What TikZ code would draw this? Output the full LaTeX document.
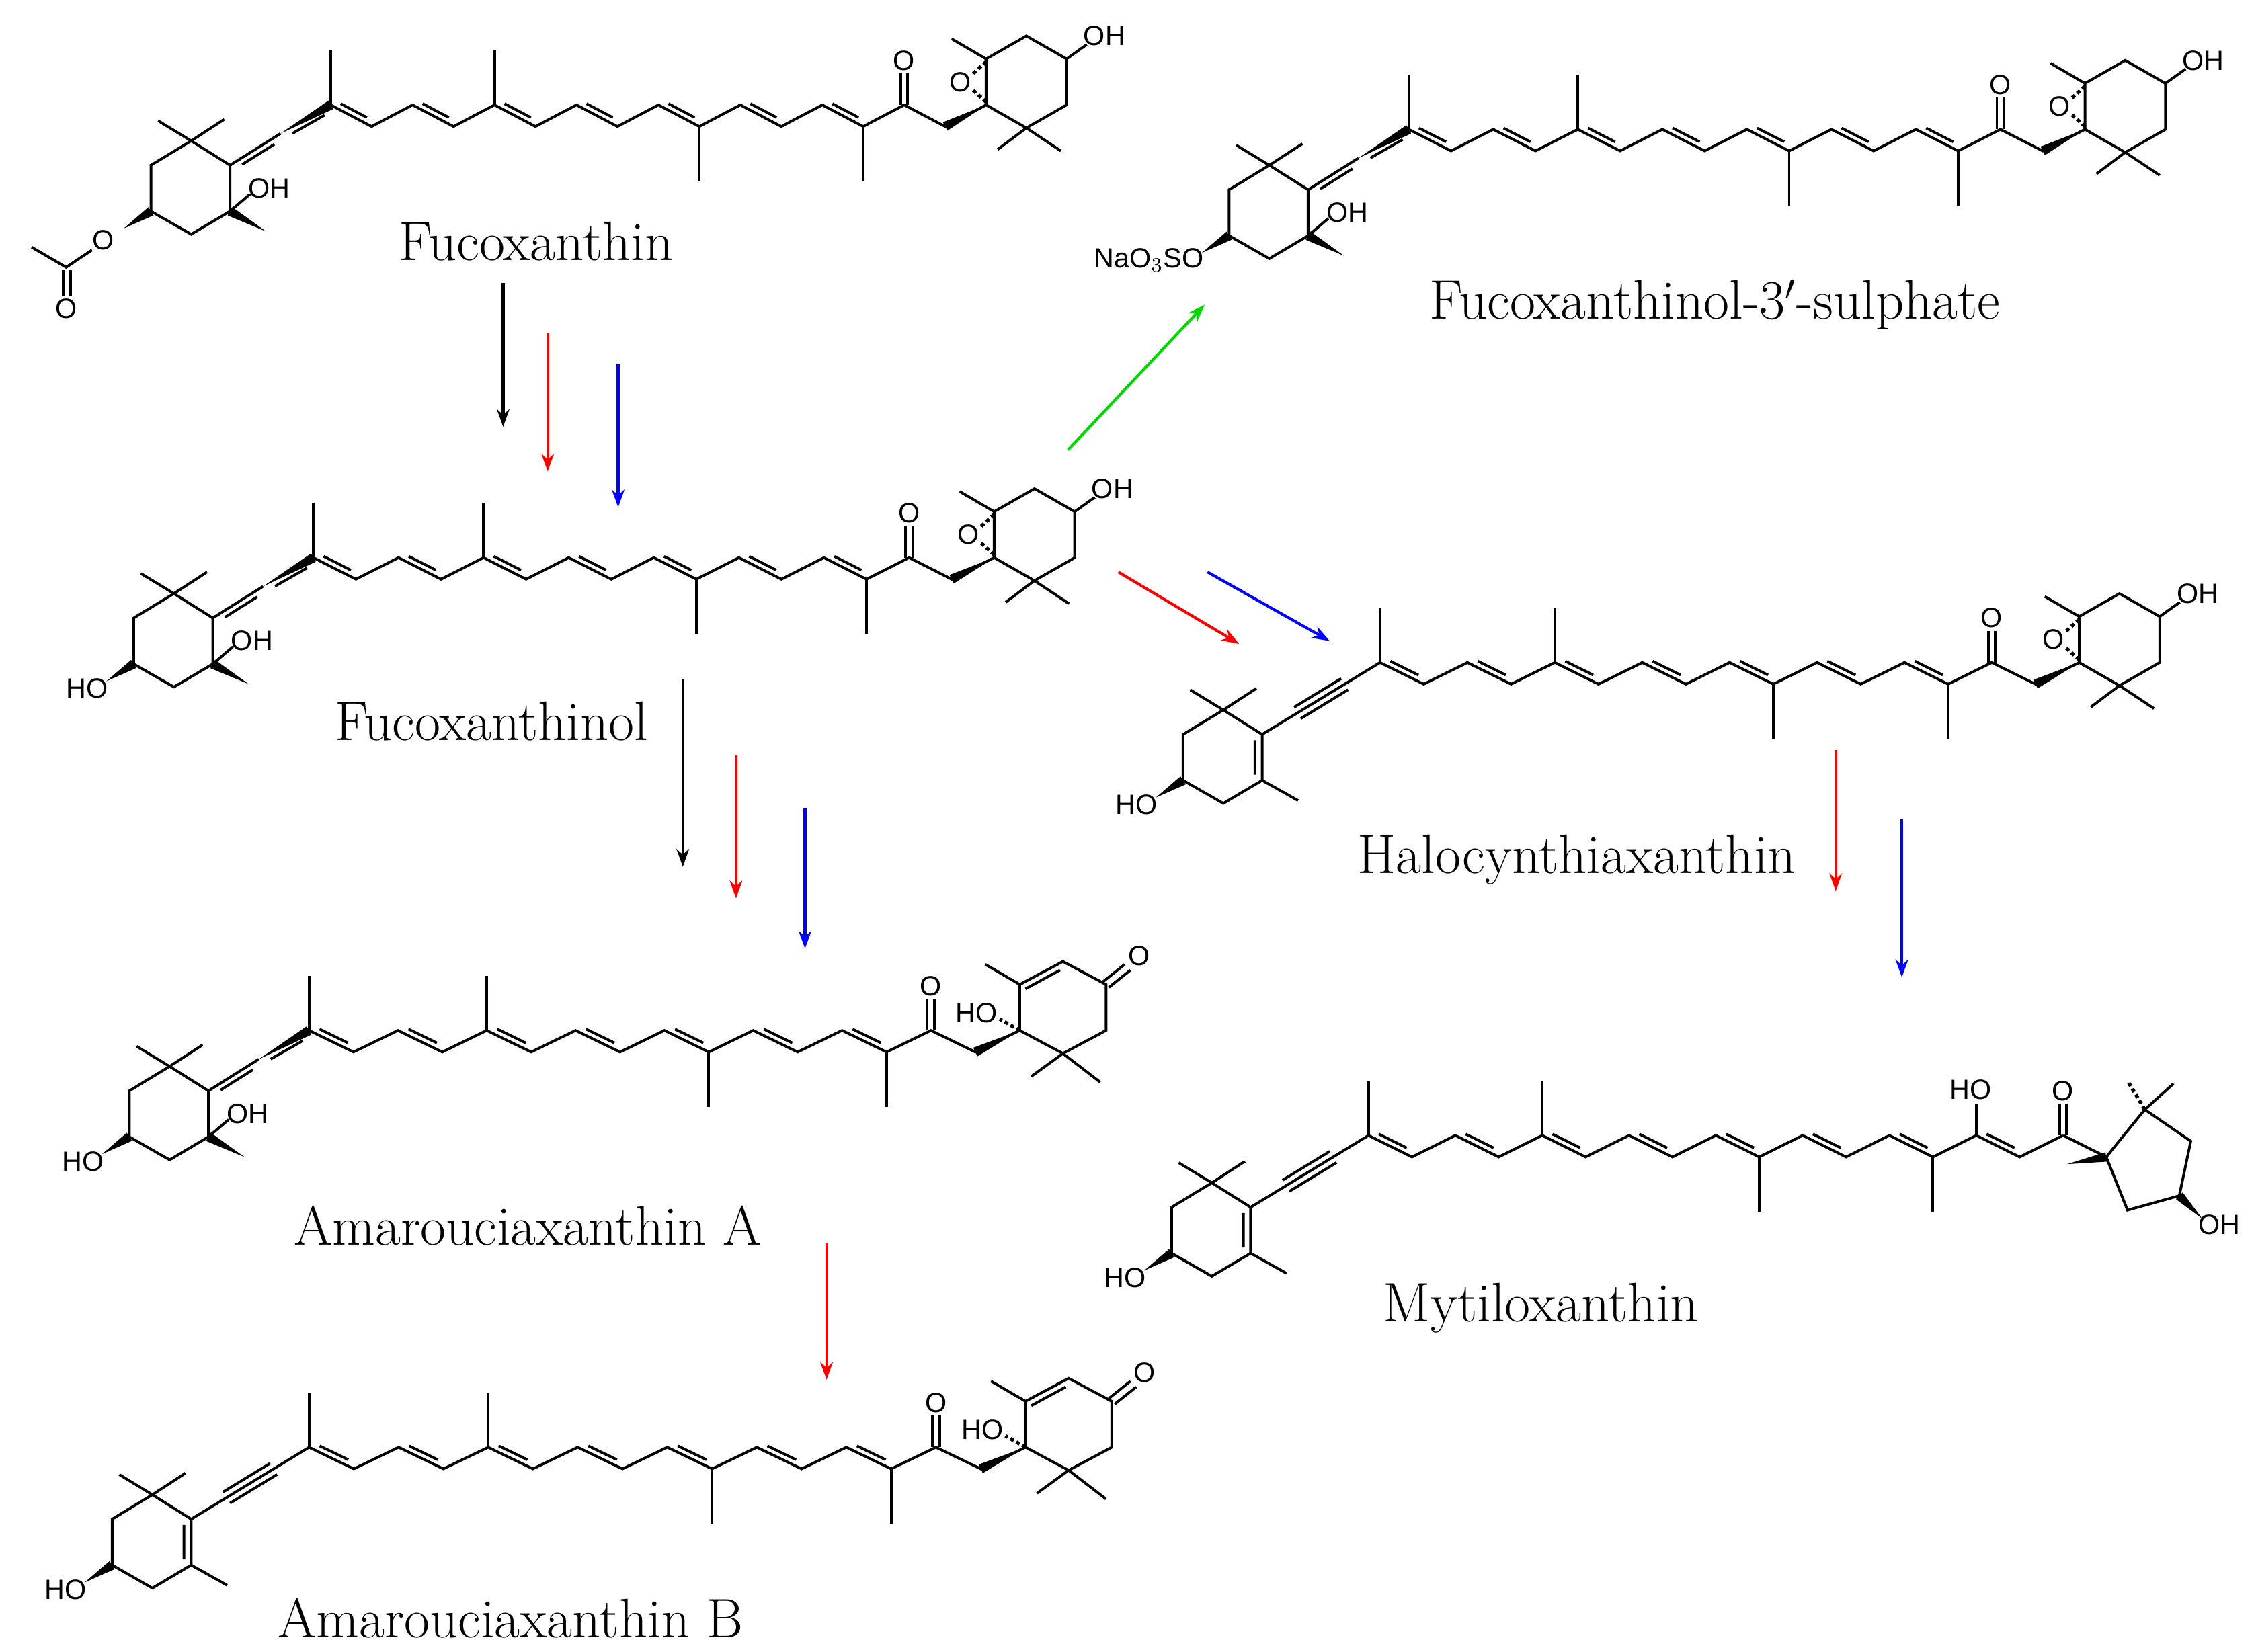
\documentclass[tikz,border=0pt]{standalone}
\usepackage{fontspec}
\newfontfamily\atomf{Liberation Sans}
\usetikzlibrary{calc,arrows.meta}
\newcommand\dbl[2]{\draw ($(#1)!0.18!(#2)!2.3pt!90:(#2)$) -- ($(#2)!0.18!(#1)!2.3pt!-90:(#1)$);}
\newcommand\dblr[2]{\draw ($(#1)!0.18!(#2)!2.3pt!-90:(#2)$) -- ($(#2)!0.18!(#1)!2.3pt!90:(#1)$);}
\newcommand\wdg[2]{\fill (#1) -- ($(#2)!1.9pt!90:(#1)$) -- ($(#2)!1.9pt!-90:(#1)$) -- cycle;}
\newcommand\chain[4]{%
  \foreach \i in {0,...,16}{\pgfmathsetmacro\yy{#3+15*mod(\i,2)}\coordinate (#1\i) at ({#2+#4*\i},\yy);}
  \draw (#10) \foreach \i in {1,...,16}{ -- (#1\i)};
  \foreach \a/\b in {0/1,2/3,4/5,6/7,8/9,10/11,12/13}{\dbl{#1\a}{#1\b}}
  \draw (#10) -- ++(0,-38) (#14) -- ++(0,-38) (#19) -- ++(0,38) (#113) -- ++(0,38);}
\newcommand\ketone[1]{\draw ($(#1)+(-2.5,0)$)--++(0,-22) ($(#1)+(2.5,0)$)--++(0,-22);
  \node[atom] at ($(#1)+(0,-31)$) {O};}
\newcommand\lring[1]{\begin{scope}[shift={(#1)}]
  \draw (0,0)--(-27,-17)--(-55,0)--(-55,32)--(-27,48)--(0,32)--cycle;
  \draw (-27,-17)--(-50,-31) (-27,-17)--(-4,-32);
  \end{scope}}
\newcommand\allene[3]{%
  \coordinate (#2a) at ($(#1)+(-35,20)$); \coordinate (#2) at ($(#1)+(-70,42)$);
  \wdg{#2a}{#1}\draw (#2a)--(#2); \dbl{#2a}{#2}\dblr{#2a}{#1}
  \lring{#2}
  \begin{scope}[shift={(#2)}]
   \draw (0,32)--(14,20); \node[atom,anchor=west] at (11,16) {OH};
   \coordinate (#2m) at (25,46); \coordinate (#2c) at (0,32); \coordinate (#2t) at (-55,32);
   \coordinate (#2s) at (-74,44);
  \end{scope}
  \wdg{#2m}{#2c}\wdg{#2s}{#2t}
  \node[atom,anchor=east] at ($(#2s)+(3,5)$) {#3};}
\newcommand\alkyne[2]{%
  \coordinate (#2) at ($(#1)+(-82,50)$);
  \draw (#1)--(#2); \draw ($(#1)!0.3!(#2)!2.6pt!90:(#2)$)--($(#1)!0.7!(#2)!2.6pt!90:(#2)$)
   ($(#1)!0.3!(#2)!2.6pt!-90:(#2)$)--($(#1)!0.7!(#2)!2.6pt!-90:(#2)$);
  \lring{#2}
  \begin{scope}[shift={(#2)}]
   \draw (-5,4)--(-5,28) (0,32)--(25,46);
   \coordinate (#2t) at (-55,32); \coordinate (#2s) at (-74,44);
  \end{scope}
  \wdg{#2s}{#2t}
  \node[atom,anchor=east] at ($(#2s)+(3,5)$) {HO};}
\newcommand\epox[2]{%
  \wdg{#2}{#1}
  \begin{scope}[shift={(#2)}]
  \draw (0,0)--(0,-32)--(28,-48)--(56,-32)--(56,0)--(28,16)--cycle;
  \draw (56,-32)--(70,-42); \node[atom,anchor=west] at (66,-48) {OH};
  \draw (28,16)--(8,31) (28,16)--(52,32) (0,-32)--(-24,-46);
  \node[atom] at (-18,-16) {O};
  \draw[dash pattern=on 1.5pt off 1.2pt, line width=1.4pt] (0,-30)--(-10,-21) (0,-2)--(-10,-11);
  \end{scope}}
\newcommand\amring[2]{%
  \wdg{#2}{#1}
  \begin{scope}[shift={(#2)}]
  \draw (0,0)--(0,-32)--(30,-48)--(60,-32)--(60,0)--(30,16)--cycle;
  \draw (4,-29)--(28,-42);
  \draw (58,-34)--(73,-46) (62,-30)--(77,-42); \node[atom] at (83,-52) {O};
  \draw (30,16)--(8,32) (30,16)--(56,36) (0,-32)--(-24,-46);
  \draw[dash pattern=on 1.5pt off 1.2pt, line width=1.4pt] (0,0)--(-14,-8);
  \node[atom] at (-30,-12) {HO};
  \end{scope}}
\tikzset{atom/.style={font=\atomf\fontsize{11}{12}\selectfont, inner sep=0.5pt},
  lab/.style={font=\fontsize{22}{26}\selectfont},
  arr/.style={line width=1.1pt,-{Stealth[length=7pt,width=5pt]}}}
\begin{document}
\begin{tikzpicture}[x=0.02cm,y=-0.02cm,line width=1.05pt]
\useasboundingbox[fill=white] (0,0) rectangle (1568,1149);
% Fucoxanthin
\chain{f}{230}{73}{28.5}\ketone{f14}\epox{f15}{f16}
\allene{f0}{fL}{}
\node[atom] (ac1) at (72,167) {O};
\draw (64,174)--(46,186)--(22,172) (44,188)--(44,206) (49,188)--(49,206);
\node[atom] at (46,215) {O};
\node[lab] (fuco) at (373,168) {Fucoxanthin};
% Fucoxanthinol
\chain{g}{218}{388}{29.6}\ketone{g14}\epox{g15}{g16}
\allene{g0}{gL}{HO}
\node[lab] (fucol) at (342,502) {Fucoxanthinol};
% Sulphate
\chain{s}{980}{90}{29.4}\ketone{s14}\epox{s15}{s16}
\allene{s0}{sL}{NaO$_3$SO}
\node[lab] (sulf) at (1193,212) {Fucoxanthinol-3$'$-sulphate};
% Halocynthiaxanthin
\chain{h}{960}{461}{30.4}\ketone{h14}\epox{h15}{h16}
\alkyne{h0}{hL}
\node[lab] (halo) at (1097,598) {Halocynthiaxanthin};
% Amarouciaxanthin A
\chain{a}{215}{717}{30.9}\ketone{a14}\amring{a15}{a16}
\allene{a0}{aL}{HO}
\node[lab] (amA) at (367,853) {Amarouciaxanthin A};
% Amarouciaxanthin B
\chain{b}{215}{1007}{31.15}\ketone{b14}\amring{b15}{b16}
\alkyne{b0}{bL}
\node[lab] (amB) at (355,1126) {Amarouciaxanthin B};
% Mytiloxanthin
\chain{m}{952}{790}{30.2}
\dbl{m14}{m15}\ketone{m16}
\draw (m14)--++(0,-22); \node[atom] at ($(m14)+(-4,-32)$) {HO};
\coordinate (m17) at ($(m16)+(30,15)$);
\draw (m16)--(m17);
\coordinate (p2) at (1492,772); \coordinate (p3) at (1524,794); \coordinate (p4) at (1516,832); \coordinate (p5) at (1480,842);
\draw (m17)--(p2)--(p3)--(p4)--(p5)--cycle;
\coordinate (pm1) at (1438,810); \wdg{pm1}{m17}
\draw (p2)--(1512,754); \draw[dash pattern=on 1.5pt off 1.2pt, line width=1.4pt] (p2)--(1480,752);
\coordinate (po) at (1532,848); \wdg{po}{p4}
\node[atom] at (1544,852) {OH};
\alkyne{m0}{mL}
\node[lab] (myt) at (1072,910) {Mytiloxanthin};
% arrows
\coordinate (k1a) at (350,197); \coordinate (k1b) at (350,297);
\coordinate (r1a) at (381,232); \coordinate (r1b) at (381,328);
\coordinate (u1a) at (430,253); \coordinate (u1b) at (430,353);
\coordinate (ga) at (743,313); \coordinate (gb) at (838,212);
\coordinate (r2a) at (778,398); \coordinate (r2b) at (862,448);
\coordinate (u2a) at (840,398); \coordinate (u2b) at (925,446);
\coordinate (k3a) at (475,473); \coordinate (k3b) at (475,603);
\coordinate (r3a) at (512,525); \coordinate (r3b) at (512,625);
\coordinate (u3a) at (560,562); \coordinate (u3b) at (560,660);
\coordinate (r4a) at (575,865); \coordinate (r4b) at (575,960);
\coordinate (r5a) at (1277,522); \coordinate (r5b) at (1277,620);
\coordinate (u5a) at (1323,570); \coordinate (u5b) at (1323,680);
\draw[arr] (k1a)--(k1b); \draw[arr,red] (r1a)--(r1b); \draw[arr,blue] (u1a)--(u1b);
\draw[arr,green!85!black] (ga)--(gb);
\draw[arr,red] (r2a)--(r2b); \draw[arr,blue] (u2a)--(u2b);
\draw[arr] (k3a)--(k3b); \draw[arr,red] (r3a)--(r3b); \draw[arr,blue] (u3a)--(u3b);
\draw[arr,red] (r4a)--(r4b);
\draw[arr,red] (r5a)--(r5b); \draw[arr,blue] (u5a)--(u5b);
\end{tikzpicture}
\end{document}
